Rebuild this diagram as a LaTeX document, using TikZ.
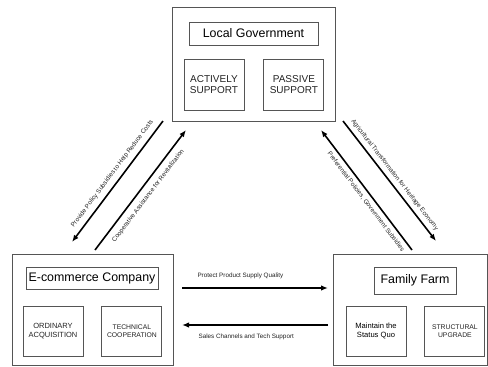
\documentclass[tikz,border=0pt]{standalone}
\usepackage{fontspec}
\setmainfont{Liberation Sans}
\usetikzlibrary{arrows.meta,positioning,calc}
\definecolor{frame}{HTML}{555555}
\definecolor{ink}{HTML}{222222}
\tikzset{
  panel/.style={rectangle,draw=frame,line width=0.9pt,inner sep=0pt},
  heading/.style={rectangle,draw=frame,line width=0.9pt,inner sep=0pt,font=\fontsize{12.4}{14}\selectfont},
  subbox/.style={rectangle,draw=frame,line width=0.9pt,inner sep=0pt,align=center,text=ink,minimum width=60pt,minimum height=50pt},
  link/.style={-{Latex[length=7pt,width=5.5pt]},line width=1.6pt},
  linklabel/.style={inner sep=0pt,text=ink,font=\fontsize{6.3}{7.5}\selectfont}
}

\begin{document}
\begin{tikzpicture}[x=1pt,y=-1pt]
  \useasboundingbox (0,0) rectangle (488,367);

  % government on top
  \node[panel,minimum width=163pt,minimum height=114pt] (gov) at (253.5,64) {};
  \node[heading,minimum width=129pt,minimum height=23pt] (govtitle) at (253.5,33.5) {Local Government};
  \node[subbox,minimum height=51pt,font=\fontsize{10}{11}\selectfont] (active) at (214,84.5) {ACTIVELY\\SUPPORT};
  \node[subbox,minimum height=51pt,right=19pt of active,font=\fontsize{10}{11}\selectfont] (passive) {PASSIVE\\SUPPORT};

  % e-commerce company, bottom left
  \node[panel,minimum width=161pt,minimum height=111pt] (ecom) at (92.5,309.5) {};
  \node[heading,minimum width=132pt,minimum height=22pt] (ecomtitle) at (92,278) {E-commerce Company};
  \node[subbox,font=\fontsize{7.5}{8.3}\selectfont] (ordinary) at (53,331) {ORDINARY\\ACQUISITION};
  \node[subbox,right=18pt of ordinary,font=\fontsize{6.8}{7.4}\selectfont] (technical) {TECHNICAL\\COOPERATION};

  % family farm, bottom right
  \node[panel,minimum width=154pt,minimum height=111pt] (farm) at (410,309.5) {};
  \node[heading,minimum width=82pt,minimum height=27pt] (farmtitle) at (415,280.5) {Family Farm};
  \node[subbox,text=black,font=\fontsize{7.6}{9.6}\selectfont] (statusquo) at (376,331) {Maintain the\\Status Quo};
  \node[subbox,right=18pt of statusquo,font=\fontsize{6.8}{7.4}\selectfont] (upgrade) {STRUCTURAL\\UPGRADE};

  % arrow ends
  \coordinate (g1) at (163,121);
  \coordinate (e1) at (72,242);
  \coordinate (e2) at (95,250);
  \coordinate (g2) at (186,130);
  \coordinate (g3) at (343,121);
  \coordinate (f3) at (436,241);
  \coordinate (f4) at (412,250);
  \coordinate (g4) at (321,130);
  \coordinate (e5) at (182,288);
  \coordinate (f5) at (328,288);
  \coordinate (f6) at (328,325);
  \coordinate (e6) at (182,325);

  \draw[link] (g1) -- node[linklabel,sloped,above=5pt,pos=0.48] {Provide Policy Subsidies to Help Reduce Costs} (e1);
  \draw[link] (e2) -- node[linklabel,sloped,below=6pt,pos=0.5] {Cooperative Assistance for Revitalization} (g2);
  \draw[link] (g3) -- node[linklabel,sloped,above=4pt,pos=0.49] {Agricultural Transformation for Heritage Economy} (f3);
  \draw[link] (f4) -- node[linklabel,sloped,below=4pt,pos=0.44] {Preferential Policies, Government Subsidies} (g4);
  \draw[link] (e5) -- node[linklabel,above=8pt,pos=0.4] {Protect Product Supply Quality} (f5);
  \draw[link] (f6) -- node[linklabel,below=8pt,pos=0.56] {Sales Channels and Tech Support} (e6);
\end{tikzpicture}
\end{document}
